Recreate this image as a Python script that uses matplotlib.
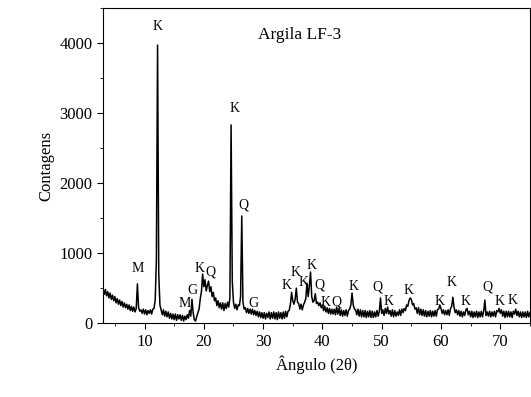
import numpy as np
import matplotlib
matplotlib.use("Agg")
import matplotlib.pyplot as plt
from matplotlib.ticker import MultipleLocator

plt.rcParams['font.family'] = ['Liberation Serif', 'DejaVu Serif']

# difratograma: passo de 0.2 graus de 3 a 75
two_theta = np.linspace(3, 75, 361)
counts = [
    500, 410, 480, 390, 450,   # 3
    360, 430, 340, 400, 320,   # 4
    380, 290, 350, 270, 330,   # 5
    250, 310, 230, 290, 220,   # 6
    270, 200, 260, 180, 240,   # 7
    170, 230, 160, 210, 560,   # 8
    220, 170, 190, 140, 200,   # 9
    130, 190, 120, 180, 140,   # 10
    190, 130, 200, 210, 330,   # 11
    900, 3970, 700, 260, 190,  # 12
    120, 190, 100, 170, 90,    # 13
    160, 70, 140, 60, 130,     # 14
    50, 130, 40, 120, 60,      # 15
    120, 40, 110, 30, 100,     # 16
    50, 120, 70, 180, 100,     # 17
    340, 150, 50, 30, 90,      # 18
    150, 200, 350, 450, 700,   # 19
    520, 620, 460, 540, 600,   # 20
    450, 520, 380, 440, 320,   # 21
    360, 250, 320, 220, 290,   # 22
    200, 290, 180, 280, 210,   # 23
    300, 230, 360, 2830, 600,  # 24
    300, 210, 270, 190, 260,   # 25
    250, 380, 1530, 300, 200,  # 26
    220, 150, 210, 140, 200,   # 27
    130, 200, 120, 180, 110,   # 28
    170, 90, 160, 80, 150,     # 29
    70, 150, 60, 140, 80,      # 30
    160, 60, 150, 70, 160,     # 31
    60, 150, 50, 160, 70,      # 32
    150, 60, 160, 70, 170,     # 33
    90, 170, 180, 270, 440,    # 34
    320, 270, 340, 500, 300,   # 35
    280, 200, 270, 190, 260,   # 36
    300, 350, 570, 380, 530,   # 37
    730, 380, 300, 320, 420,   # 38
    280, 300, 250, 290, 220,   # 39
    260, 180, 240, 160, 220,   # 40
    140, 210, 130, 200, 130,   # 41
    200, 120, 230, 130, 210,   # 42
    110, 190, 100, 180, 110,   # 43
    190, 100, 180, 200, 260,   # 44
    430, 260, 200, 190, 120,   # 45
    200, 100, 190, 90, 180,    # 46
    90, 180, 80, 170, 90,      # 47
    180, 80, 170, 80, 160,     # 48
    90, 180, 100, 170, 360,    # 49
    140, 190, 110, 210, 140,   # 50
    230, 130, 180, 100, 190,   # 51
    90, 180, 100, 160, 110,    # 52
    190, 110, 200, 150, 210,   # 53
    180, 260, 240, 320, 360,   # 54
    340, 260, 280, 200, 220,   # 55
    140, 220, 120, 200, 110,   # 56
    190, 100, 180, 90, 170,    # 57
    100, 180, 90, 170, 100,    # 58
    180, 100, 190, 200, 260,   # 59
    210, 140, 190, 120, 180,   # 60
    120, 190, 110, 210, 240,   # 61
    370, 230, 150, 190, 120,   # 62
    180, 100, 170, 90, 160,    # 63
    110, 190, 210, 120, 170,   # 64
    90, 170, 80, 160, 90,      # 65
    170, 80, 160, 90, 170,     # 66
    90, 170, 330, 110, 160,    # 67
    100, 170, 90, 160, 100,    # 68
    170, 90, 180, 160, 210,    # 69
    140, 190, 100, 170, 80,    # 70
    170, 90, 170, 90, 160,     # 71
    80, 170, 130, 200, 110,    # 72
    170, 90, 160, 80, 160,     # 73
    90, 160, 80, 170, 90,      # 74
    150,                       # 75
]

# identificacao das fases
peak_labels = ['M', 'K', 'K', 'Q', 'M', 'G', 'K', 'Q', 'G', 'K', 'K', 'K', 'K', 'Q',
               'K', 'Q', 'K', 'Q', 'K', 'K', 'K', 'K', 'K', 'Q', 'K', 'K']
label_x = [8.8, 12.2, 25.1, 26.7, 16.7, 18.05, 19.3, 21.1, 28.4, 34.0, 35.4, 36.8, 38.2, 39.5,
           40.6, 42.4, 45.3, 49.3, 51.2, 54.55, 59.7, 61.7, 64.2, 67.9, 69.8, 72.1]
label_y = [786, 4230, 3070, 1690, 286, 470, 786, 730, 286, 543, 730, 585, 830, 543,
           300, 300, 520, 520, 305, 470, 305, 585, 305, 520, 305, 330]

fig = plt.figure(figsize=(5.31, 3.97), dpi=100)
ax = fig.add_axes([0.194, 0.186, 0.804, 0.794])

ax.plot(two_theta, counts, color='black', linewidth=1.1)

for lab, x, y in zip(peak_labels, label_x, label_y):
    ax.text(x, y, lab, ha='center', va='center', fontsize=10)

ax.text(36.2, 4115, 'Argila LF-3', ha='center', va='center', fontsize=12.5)

ax.set_xlim(3, 75)
ax.set_ylim(0, 4500)
ax.xaxis.set_major_locator(MultipleLocator(10))
ax.xaxis.set_minor_locator(MultipleLocator(5))
ax.yaxis.set_major_locator(MultipleLocator(1000))
ax.yaxis.set_minor_locator(MultipleLocator(500))
ax.tick_params(which='major', direction='out', length=4, labelsize=12)
ax.tick_params(which='minor', direction='out', length=2.5)
ax.tick_params(top=False, right=False)

ax.set_xlabel('Ângulo (2θ)', fontsize=12)
ax.set_ylabel('Contagens', fontsize=12)

fig.savefig('out.png', dpi=100)
